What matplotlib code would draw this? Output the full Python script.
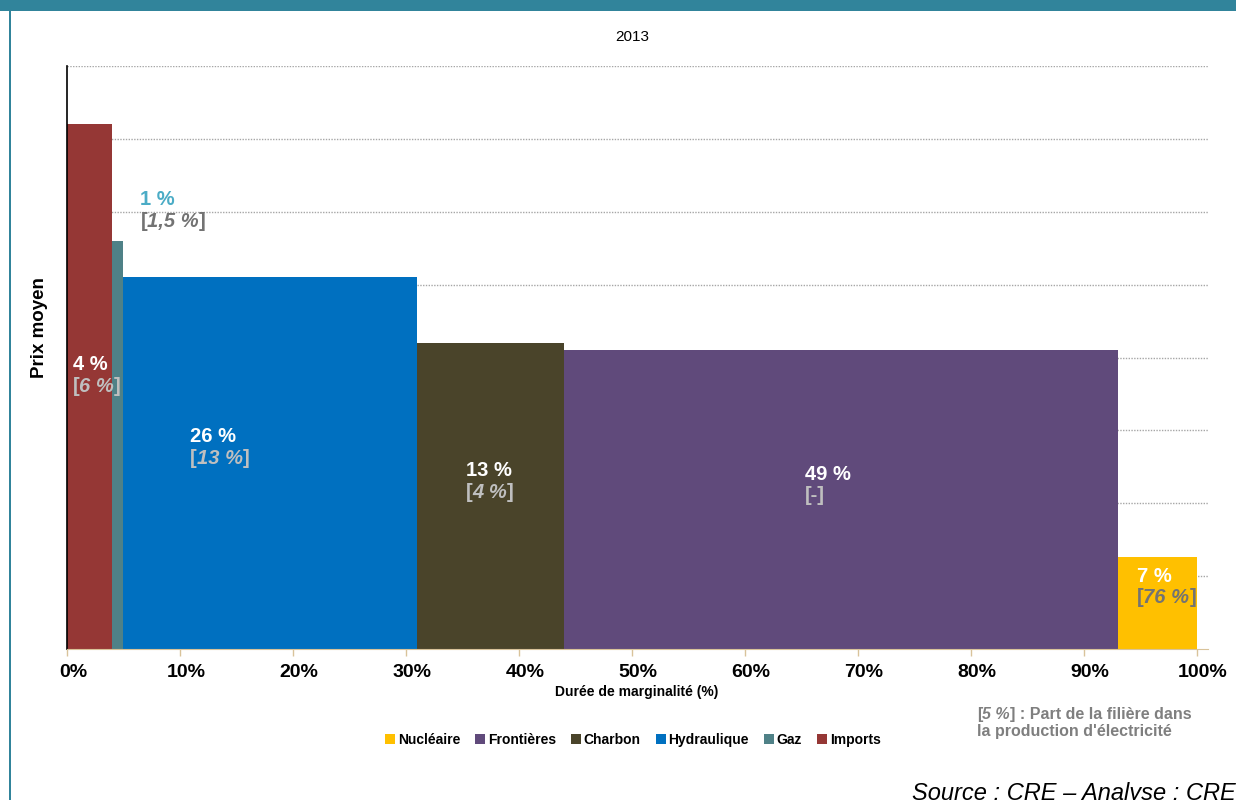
import numpy as np
import matplotlib
matplotlib.use("Agg")
import matplotlib.pyplot as plt
from matplotlib.patches import Patch, Rectangle
from matplotlib.offsetbox import TextArea, HPacker, VPacker, AnnotationBbox
from matplotlib.transforms import ScaledTranslation

plt.rcParams['font.family'] = ['Liberation Sans', 'DejaVu Sans']

# durée de marginalité (%) et prix moyen par filière, 2013
filieres = ['Imports', 'Gaz', 'Hydraulique', 'Charbon', 'Frontières', 'Nucléaire']
duree = [4, 1, 26, 13, 49, 7]
prix = [72, 56, 51, 42, 41, 12.6]
part_prod = ['6 %', '1,5 %', '13 %', '4 %', '-', '76 %']
couleurs = ['#953735', '#4F8187', '#0070C0', '#4A442A', '#604A7B', '#FFC000']

teal = '#31849B'

fig = plt.figure(figsize=(12.36, 8), dpi=100)
ax = fig.add_axes([67 / 1236, 151 / 800, 1141 / 1236, 583 / 800])

debut = np.concatenate([[0], np.cumsum(duree)[:-1]])
ax.bar(debut, prix, width=duree, align='edge', color=couleurs, linewidth=0, zorder=2)

ax.set_xlim(0, 101)
ax.set_ylim(0, 80)
ax.set_yticks(np.arange(10, 81, 10))
ax.tick_params(axis='y', left=False, labelleft=False)
ax.yaxis.grid(True, color='#A6A6A6', linestyle=(0, (1, 1)), linewidth=1)
ax.set_axisbelow(True)

ax.set_xticks(np.arange(0, 101, 10))
ax.set_xticklabels([f'{v}%' for v in range(0, 101, 10)], fontsize=14, fontweight='bold')
ax.tick_params(axis='x', color='#D9C39A', length=5, width=1, pad=6)
shift = ScaledTranslation(0.06, 0, fig.dpi_scale_trans)
for lab in ax.get_xticklabels():
    lab.set_transform(lab.get_transform() + shift)

for s in ['top', 'right']:
    ax.spines[s].set_visible(False)
ax.spines['bottom'].set_color('#D9C39A')
ax.spines['left'].set_color('black')
ax.spines['left'].set_linewidth(1.2)


def etiquette(duree_txt, part, c_haut, c_bas):
    props = dict(fontsize=14.5, fontweight='bold')
    haut = TextArea(duree_txt, textprops=dict(color=c_haut, **props))
    if part == '-':
        bas = TextArea('[-]', textprops=dict(color=c_bas, **props))
    else:
        bas = HPacker(children=[
            TextArea('[', textprops=dict(color=c_bas, **props)),
            TextArea(part, textprops=dict(color=c_bas, fontstyle='italic', **props)),
            TextArea(']', textprops=dict(color=c_bas, **props)),
        ], pad=0, sep=0, align='baseline')
    return VPacker(children=[haut, bas], align='left', pad=0, sep=2)


# position des étiquettes (x, y en données)
pos_lab = [(0.5, 37.5), (6.5, 60.2), (10.9, 27.7), (35.3, 23.0), (65.3, 22.5), (94.7, 8.5)]
c_haut = ['white', '#4BACC6', 'white', 'white', 'white', 'white']
c_bas = ['#BFBFBF', '#737373', '#BFBFBF', '#BFBFBF', '#BFBFBF', '#737373']
for i in range(len(filieres)):
    box = etiquette(f'{duree[i]} %', part_prod[i], c_haut[i], c_bas[i])
    ab = AnnotationBbox(box, pos_lab[i], xycoords='data', box_alignment=(0, 0.5),
                        frameon=False, pad=0, zorder=5)
    ax.add_artist(ab)

fig.text(632 / 1236, 1 - 37 / 800, '2013', ha='center', va='center', fontsize=11)
fig.text(40 / 1236, 1 - 328 / 800, 'Prix moyen', rotation=90, ha='center', va='center',
         fontsize=13.5, fontweight='bold')
fig.text(637 / 1236, 1 - 692 / 800, 'Durée de marginalité (%)', ha='center', va='center',
         fontsize=10, fontweight='bold')

handles = [Patch(facecolor=couleurs[i], label=filieres[i]) for i in range(len(filieres) - 1, -1, -1)]
leg = fig.legend(handles=handles, loc='center', bbox_to_anchor=(633 / 1236, 1 - 740 / 800),
                 ncol=6, frameon=False, handlelength=0.7, handleheight=0.7,
                 handletextpad=0.2, columnspacing=1.1, prop=dict(size=10, weight='bold'))

# note sur la part de production
gris = '#7F7F7F'
np_props = dict(fontsize=11.5, fontweight='bold', color=gris)
ligne1 = HPacker(children=[
    TextArea('[', textprops=np_props),
    TextArea('5 %', textprops=dict(fontstyle='italic', **np_props)),
    TextArea('] : Part de la filière dans', textprops=np_props),
], pad=0, sep=0, align='baseline')
ligne2 = TextArea("la production d'électricité", textprops=np_props)
note = VPacker(children=[ligne1, ligne2], align='left', pad=0, sep=1)
fig.add_artist(AnnotationBbox(note, (977, 800 - 723), xycoords='figure pixels',
                              box_alignment=(0, 0.5), frameon=False, pad=0))

fig.text(1.0, -0.006, 'Source : CRE – Analyse : CRE', ha='right', va='bottom',
         fontsize=17, fontstyle='italic')

# bandeau et filet
fig.add_artist(Rectangle((0, 1 - 11 / 800), 1, 11 / 800, transform=fig.transFigure,
                         color=teal, linewidth=0))
fig.add_artist(Rectangle((9 / 1236, 0), 2 / 1236, 1, transform=fig.transFigure,
                         color=teal, linewidth=0))

fig.savefig('out.png', dpi=100)
